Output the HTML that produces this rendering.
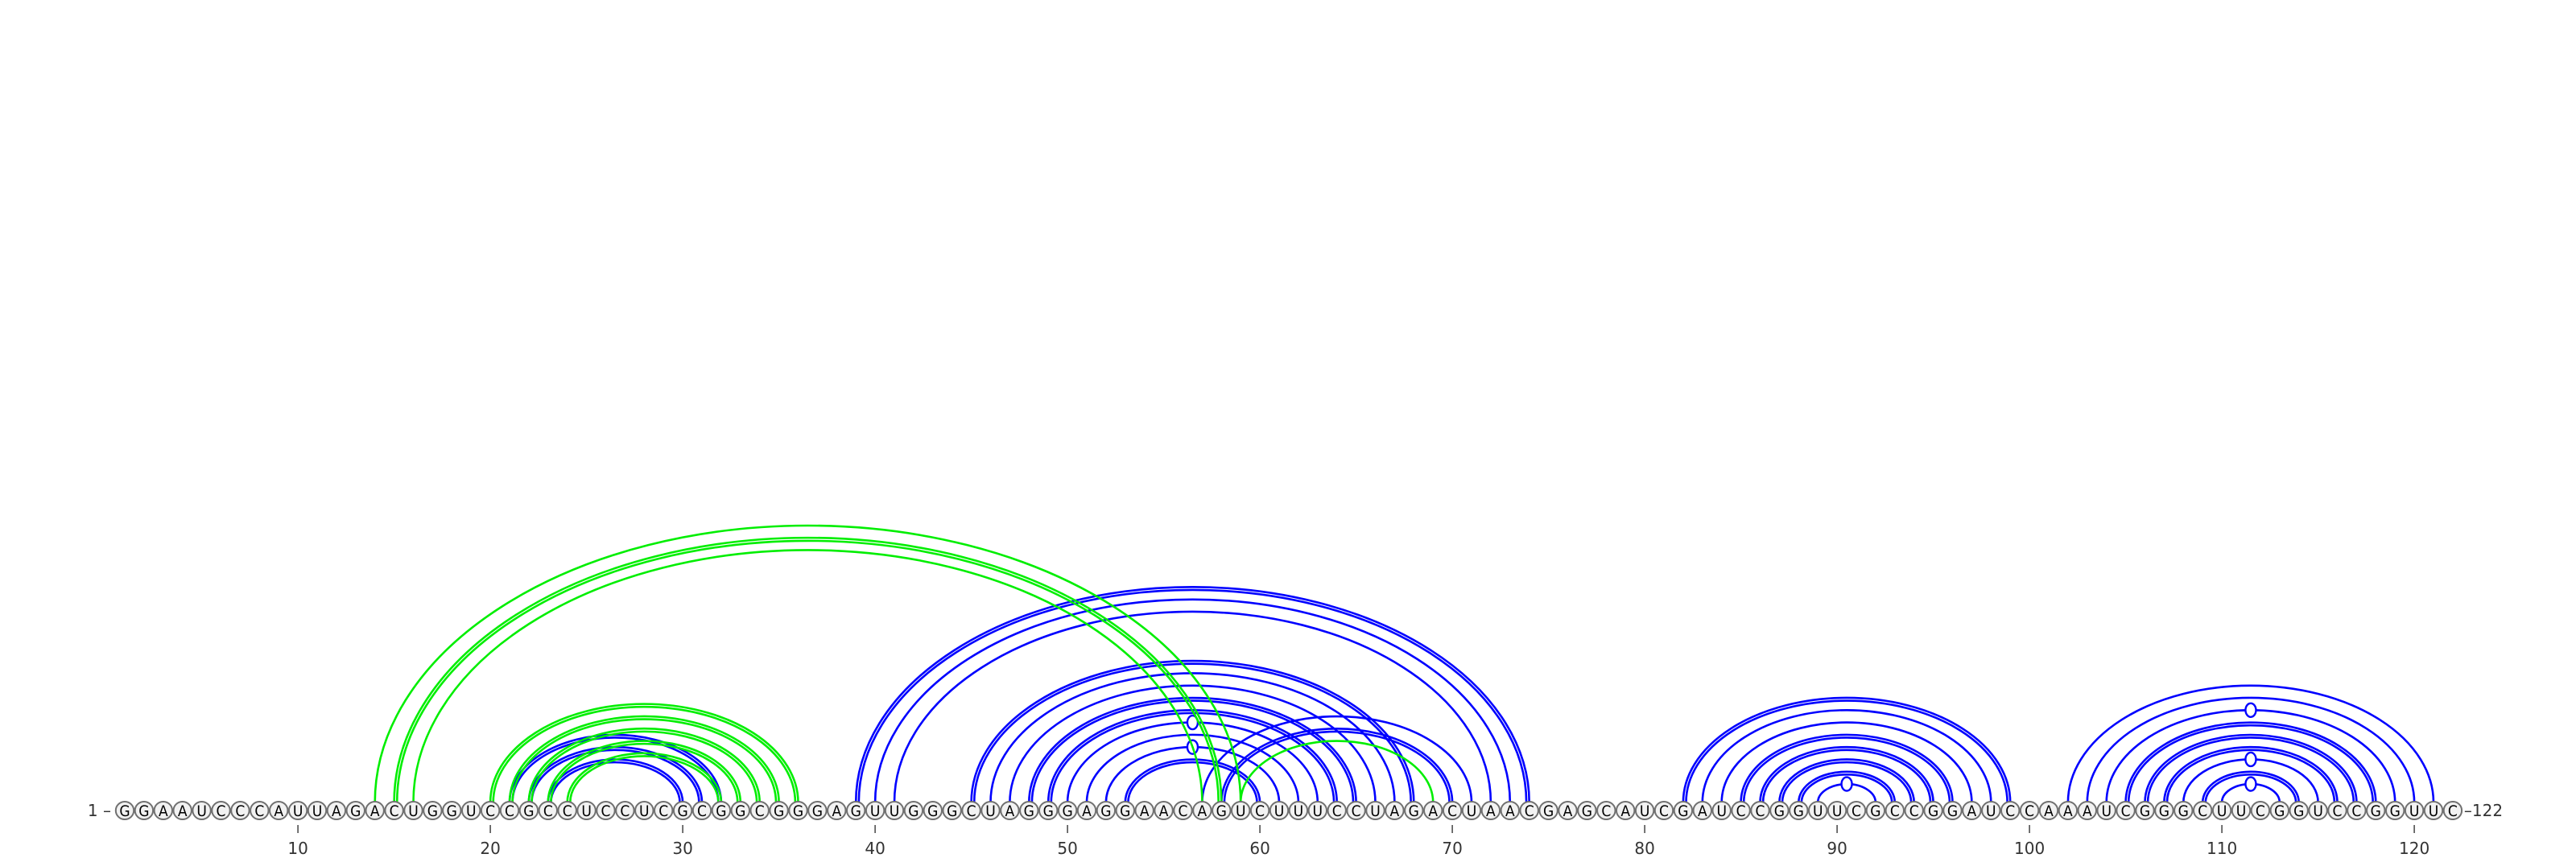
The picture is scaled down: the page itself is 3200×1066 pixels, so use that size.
<!DOCTYPE html>
<html><head><meta charset="utf-8"><style>
html,body{margin:0;padding:0;background:#fff;}
svg{display:block;}
</style></head><body>
<svg id="chart" width="3200" height="1066" viewBox="0 0 3200 1066" xmlns="http://www.w3.org/2000/svg"></svg>
<script>
const sequence = "GGAAUCCCAUUAGACUGGUCCGCCUCCUCGCGGCGGGAGUUGGGCUAGGGAGGAACAGUCUUUCCUAGACUAACGAGCAUCGAUCCGGUUCGCCGGAUCCAAAUCGGGCUUCGGUCCGGUUC";
const blueI = [23,22,21,39,40,41,45,46,47,48,49,50,51,52,53,57,58,82,83,84,85,86,87,88,89,102,103,104,105,106,107,108,109,110];
const blueJ = [30,31,32,74,73,72,68,67,66,65,64,63,62,61,60,71,70,99,98,97,96,95,94,93,92,121,120,119,118,117,116,115,114,113];
const blueDouble = [1,1,1,1,0,0,1,0,0,1,1,0,0,0,1,0,1,1,0,0,1,1,1,1,0,0,0,0,1,1,1,0,1,0];
const greenI = [14,15,16,20,21,22,23,24,59];
const greenJ = [59,58,57,36,35,34,33,32,69];
const greenDouble = [0,1,0,1,1,1,1,1,0];
const tickValues = [10,20,30,40,50,60,70,80,90,100,110,120];

const svg = document.getElementById('chart');
const NS = "http://www.w3.org/2000/svg";
const x0 = 155, dx = 23.9, cy = 1007, footY = 997, ratio = 0.64;
function xPos(i){ return x0 + (i-1)*dx; }
function mk(tag, attrs){ const e=document.createElementNS(NS,tag); for(const k in attrs) e.setAttribute(k,attrs[k]); svg.appendChild(e); return e; }

function drawArc(i,j,color,dbl,name){
  const xa=xPos(i), xb=xPos(j), hw=(xb-xa)/2, h=hw*ratio;
  const p=mk('path',{d:`M ${xa} ${footY} A ${hw} ${h} 0 0 1 ${xb} ${footY}`,fill:'none',stroke:color,'stroke-width':2.6});
  
  
  if(dbl){
    const o=3.6;
    const q=mk('path',{d:`M ${xa+o} ${footY} A ${hw-o} ${h-o} 0 0 1 ${xb-o} ${footY}`,fill:'none',stroke:color,'stroke-width':2.6});
    
    
  }
  const a=sequence[i-1], b=sequence[j-1];
  if((a==='G'&&b==='U')||(a==='U'&&b==='G')){
    const c=mk('ellipse',{cx:(xa+xb)/2,cy:footY-h,rx:6.5,ry:8.5,fill:'#fff',stroke:color,'stroke-width':2.4});
    
    
  }
}
for(let k=0;k<blueI.length;k++) drawArc(blueI[k],blueJ[k],'#0000ff',blueDouble[k],'blue-arc-'+blueI[k]+'-'+blueJ[k]);
for(let k=0;k<greenI.length;k++) drawArc(greenI[k],greenJ[k],'#00ee00',greenDouble[k],'green-arc-'+greenI[k]+'-'+greenJ[k]);

// nucleotides
for(let i=1;i<=sequence.length;i++){
  const x=xPos(i);
  const c=mk('ellipse',{cx:x,cy:cy,rx:11.2,ry:11,fill:'#f2f2f2',stroke:'#707070','stroke-width':2});
  
  
  const t=mk('text',{x:x,y:cy+7,'text-anchor':'middle','font-family':'"DejaVu Sans Condensed","Liberation Sans",sans-serif','font-size':19,fill:'#000'});
  t.textContent=sequence[i-1];
  
  
}
// ends
const s=mk('text',{x:138,y:cy+7,'text-anchor':'end','font-family':'"DejaVu Sans","Liberation Sans",sans-serif','font-size':20,fill:'#333'});
s.textContent='1 \u2013';


const e=mk('text',{x:xPos(sequence.length)+14,y:cy+7,'text-anchor':'start','font-family':'"DejaVu Sans","Liberation Sans",sans-serif','font-size':20,fill:'#333'});
e.textContent='\u2013122';


// ticks
for(const v of tickValues){
  const x=xPos(v);
  const l=mk('line',{x1:x,y1:1025,x2:x,y2:1035,stroke:'#444','stroke-width':1.5});
  
  
  const t=mk('text',{x:x,y:1061,'text-anchor':'middle','font-family':'"DejaVu Sans","Liberation Sans",sans-serif','font-size':20,fill:'#333'});
  t.textContent=String(v);
  
  
}
</script>
</body></html>
